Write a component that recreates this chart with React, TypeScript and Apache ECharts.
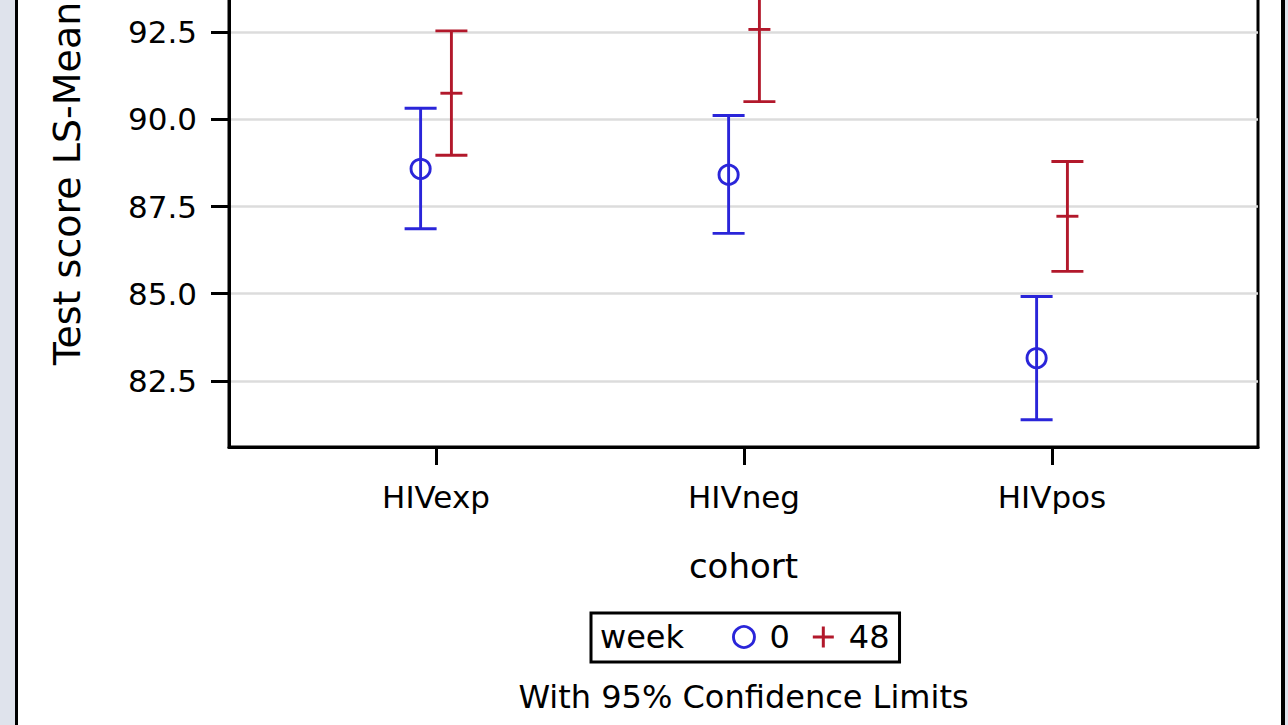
import React, { useEffect, useRef } from "react";
import * as echarts from "echarts";

const cohorts = ["HIVexp", "HIVneg", "HIVpos"];
const weekNames = ["0", "48"];
const week0Mean = [88.58, 88.41, 83.15];
const week0Lower = [86.86, 86.73, 81.38];
const week0Upper = [90.32, 90.11, 84.92];
const week48Mean = [90.75, 92.58, 87.22];
const week48Lower = [88.97, 90.51, 85.64];
const week48Upper = [92.54, 94.65, 88.79];
const yTicks = [82.5, 85.0, 87.5, 90.0, 92.5];
const xTicks = [0, 1, 2];

const BLUE = "#2A25D9";
const RED = "#B2182B";
const FONT = "DejaVu Sans";
const GROUP_OFFSET = 0.05;
const SHIFT = 100; // container extends above the visible window

function buildData(offset: number, means: number[], lows: number[], highs: number[]) {
  return means.map((m, i) => [i + offset, lows[i], highs[i], m]);
}

function makeRender(kind: "circle" | "plus") {
  return (params: any, api: any) => {
    const x = api.value(0);
    const lo = api.value(1);
    const hi = api.value(2);
    const m = api.value(3);
    const pLo = api.coord([x, lo]);
    const pHi = api.coord([x, hi]);
    const pM = api.coord([x, m]);
    const color = api.visual("color");
    const cap = 16;
    const st = { stroke: color, lineWidth: 2.9, fill: "none" };
    const children: any[] = [
      { type: "line", shape: { x1: pLo[0], y1: pLo[1], x2: pHi[0], y2: pHi[1] }, style: st },
      { type: "line", shape: { x1: pLo[0] - cap, y1: pLo[1], x2: pLo[0] + cap, y2: pLo[1] }, style: st },
      { type: "line", shape: { x1: pHi[0] - cap, y1: pHi[1], x2: pHi[0] + cap, y2: pHi[1] }, style: st },
    ];
    if (kind === "circle") {
      children.push({ type: "circle", shape: { cx: pM[0], cy: pM[1], r: 9.6 }, style: st });
    } else {
      children.push({ type: "line", shape: { x1: pM[0] - 11, y1: pM[1], x2: pM[0] + 11, y2: pM[1] }, style: st });
    }
    return { type: "group", children };
  };
}

export default function App() {
  const ref = useRef<HTMLDivElement>(null);
  useEffect(() => {
    if (!ref.current) return;
    const chart = echarts.init(ref.current, null, { renderer: "svg" });
    const plusPath = "path://M9,0 H12 V9 H21 V12 H12 V21 H9 V12 H0 V9 H9 Z";
    chart.setOption({
      animation: false,
      backgroundColor: "#ffffff",
      grid: {
        left: 229,
        right: 30,
        top: SHIFT - 80,
        bottom: 278,
        show: true,
        backgroundColor: "#ffffff",
        borderColor: "#000000",
        borderWidth: 3,
      },
      xAxis: {
        type: "value",
        min: -0.6721,
        max: 2.6688,
        name: "cohort",
        nameLocation: "middle",
        nameGap: 102,
        nameTextStyle: { fontFamily: FONT, fontSize: 34, color: "#000" },
        axisLine: { show: true, onZero: false, lineStyle: { color: "#000", width: 3 } },
        axisTick: { show: true, length: 18, lineStyle: { color: "#000", width: 3 }, customValues: xTicks },
        axisLabel: {
          customValues: xTicks,
          formatter: (v: number) => cohorts[Math.round(v)] ?? "",
          fontFamily: FONT,
          fontSize: 31,
          color: "#000",
          margin: 34,
        },
        splitLine: { show: false },
      },
      yAxis: {
        type: "value",
        min: 80.6,
        max: 95.72,
        name: "Test score LS-Mean",
        nameLocation: "middle",
        nameGap: 143,
        nameTextStyle: { fontFamily: FONT, fontSize: 38, color: "#000" },
        axisLine: { show: true, onZero: false, lineStyle: { color: "#000", width: 3 } },
        axisTick: { show: true, length: 18, lineStyle: { color: "#000", width: 3 }, customValues: yTicks },
        axisLabel: {
          customValues: yTicks,
          formatter: (v: number) => v.toFixed(1),
          fontFamily: FONT,
          fontSize: 31,
          color: "#000",
          margin: 32,
        },
        splitLine: { show: true, lineStyle: { color: "#dcdcdc", width: 2.5 } },
      },
      legend: {
        show: true,
        selectedMode: false,
        orient: "horizontal",
        left: 591,
        top: SHIFT + 613,
        padding: [8, 10, 9, 141],
        itemGap: 23,
        itemWidth: 41,
        itemHeight: 21,
        borderColor: "#000",
        borderWidth: 3,
        textStyle: { fontFamily: FONT, fontSize: 32, color: "#000" },
        data: [
          { name: weekNames[0], icon: "circle", itemStyle: { color: "#ffffff", borderColor: BLUE, borderWidth: 2.9 } },
          { name: weekNames[1], icon: plusPath, itemStyle: { color: RED } },
        ],
      },
      graphic: [
        { type: "rect", shape: { x: 0, y: 0, width: 15, height: 725 + SHIFT }, style: { fill: "#dfe3ec" }, silent: true },
        { type: "rect", shape: { x: 15, y: 0, width: 3, height: 725 + SHIFT }, style: { fill: "#000" }, silent: true },
        { type: "rect", shape: { x: 1281, y: 0, width: 4, height: 725 + SHIFT }, style: { fill: "#000" }, silent: true },
        { type: "rect", shape: { x: 1285, y: 0, width: 3, height: 725 + SHIFT }, style: { fill: "#dfe3ec" }, silent: true },
        {
          type: "text",
          x: 600,
          y: SHIFT + 637,
          style: { text: "week", fontFamily: FONT, fontSize: 32, fill: "#000", textAlign: "left", textVerticalAlign: "middle" },
          silent: true,
        },
        {
          type: "text",
          x: 743.5,
          y: SHIFT + 697,
          style: {
            text: "With 95% Confidence Limits",
            fontFamily: FONT,
            fontSize: 32,
            fill: "#000",
            textAlign: "center",
            textVerticalAlign: "middle",
          },
          silent: true,
        },
      ],
      series: [
        {
          name: weekNames[0],
          type: "custom",
          itemStyle: { color: BLUE },
          renderItem: makeRender("circle"),
          encode: { x: 0, y: [1, 2, 3] },
          data: buildData(-GROUP_OFFSET, week0Mean, week0Lower, week0Upper),
          clip: false,
          z: 3,
        },
        {
          name: weekNames[1],
          type: "custom",
          itemStyle: { color: RED },
          renderItem: makeRender("plus"),
          encode: { x: 0, y: [1, 2, 3] },
          data: buildData(GROUP_OFFSET, week48Mean, week48Lower, week48Upper),
          clip: false,
          z: 3,
        },
      ],
    });
    return () => chart.dispose();
  }, []);
  return (
    <div
      ref={ref}
      style={{ position: "fixed", left: 0, top: -SHIFT, width: 1288, height: 725 + SHIFT }}
    />
  );
}
